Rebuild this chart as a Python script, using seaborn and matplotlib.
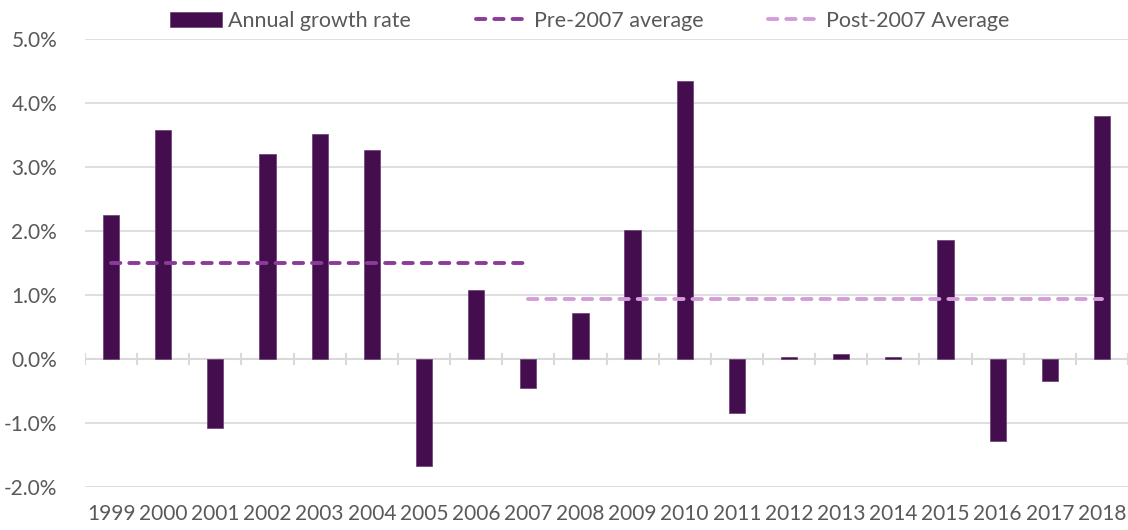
import matplotlib
matplotlib.use("Agg")
import matplotlib.pyplot as plt
import seaborn as sns
import pandas as pd
from matplotlib.ticker import FuncFormatter

years = [str(y) for y in range(1999, 2019)]
growth = [2.25, 3.58, -1.08, 3.20, 3.51, 3.27, -1.67, 1.08, -0.45, 0.72,
          2.01, 4.34, -0.85, 0.03, 0.08, 0.03, 1.86, -1.28, -0.35, 3.80]
pre_years = [str(y) for y in range(1999, 2008)]
pre_avg = 1.50
post_years = [str(y) for y in range(2007, 2019)]
post_avg = 0.94
yticks = [-2, -1, 0, 1, 2, 3, 4, 5]

bar_color = "#440E4E"
pre_color = "#8B3B98"
post_color = "#D49CDB"
text_color = "#595959"
grid_color = "#D9D9D9"

sns.set_theme(style="white")
plt.rcParams['font.family'] = ['Lato', 'DejaVu Sans']

fig = plt.figure(figsize=(11.28, 5.30), dpi=100)
ax = fig.add_axes([85/1128, 1-487/530, 1-85/1128, (487-39)/530])

df = pd.DataFrame({"year": years, "growth": growth})
sns.barplot(data=df, x="year", y="growth", color=bar_color, width=0.31,
            saturation=1, ax=ax, zorder=3, edgecolor="#6A3A74", linewidth=0.5)

pos = {y: i for i, y in enumerate(years)}
pre_x = [pos[y] for y in pre_years]
post_x = [pos[y] for y in post_years]
l1, = ax.plot([pre_x[0], pre_x[-1]], [pre_avg, pre_avg], color=pre_color, lw=2.8,
              dashes=(2.4, 2.3), dash_capstyle="round", zorder=4)
l2, = ax.plot([post_x[0], post_x[-1]], [post_avg, post_avg], color=post_color, lw=2.8,
              dashes=(2.4, 2.3), dash_capstyle="round", zorder=4)

ax.set_xlim(-0.5, len(years) - 0.5)
ax.set_ylim(-2, 5)
ax.set_yticks(yticks)
ax.yaxis.set_major_formatter(FuncFormatter(lambda v, p: f"{v:.1f}%"))
for yv in yticks:
    if yv != 0:
        ax.axhline(yv, color=grid_color, lw=1.2, zorder=1)
ax.axhline(0, color=grid_color, lw=1.5, zorder=2)
bounds = [i - 0.5 for i in range(len(years) + 1)]
ax.vlines(bounds, -0.1, 0.1, color=grid_color, lw=1.5, zorder=2)

for s in ax.spines.values():
    s.set_visible(False)
ax.tick_params(axis="both", length=0, labelsize=15, labelcolor=text_color)
ax.tick_params(axis="y", pad=20)
ax.tick_params(axis="x", pad=12)
ax.set_xlabel("")
ax.set_ylabel("")
ax.grid(False)
if ax.get_legend() is not None:
    ax.get_legend().remove()

bar_handle = ax.patches[0]
fig.legend([bar_handle, l1, l2],
           ["Annual growth rate", "Pre-2007 average", "Post-2007 Average"],
           loc="center", bbox_to_anchor=(590/1128, 1-21/530),
           ncol=3, frameon=False, fontsize=15.5, labelcolor=text_color,
           handlelength=2.4, handleheight=0.75, handletextpad=0.3,
           columnspacing=3.0)

fig.savefig("out.png", dpi=100)
